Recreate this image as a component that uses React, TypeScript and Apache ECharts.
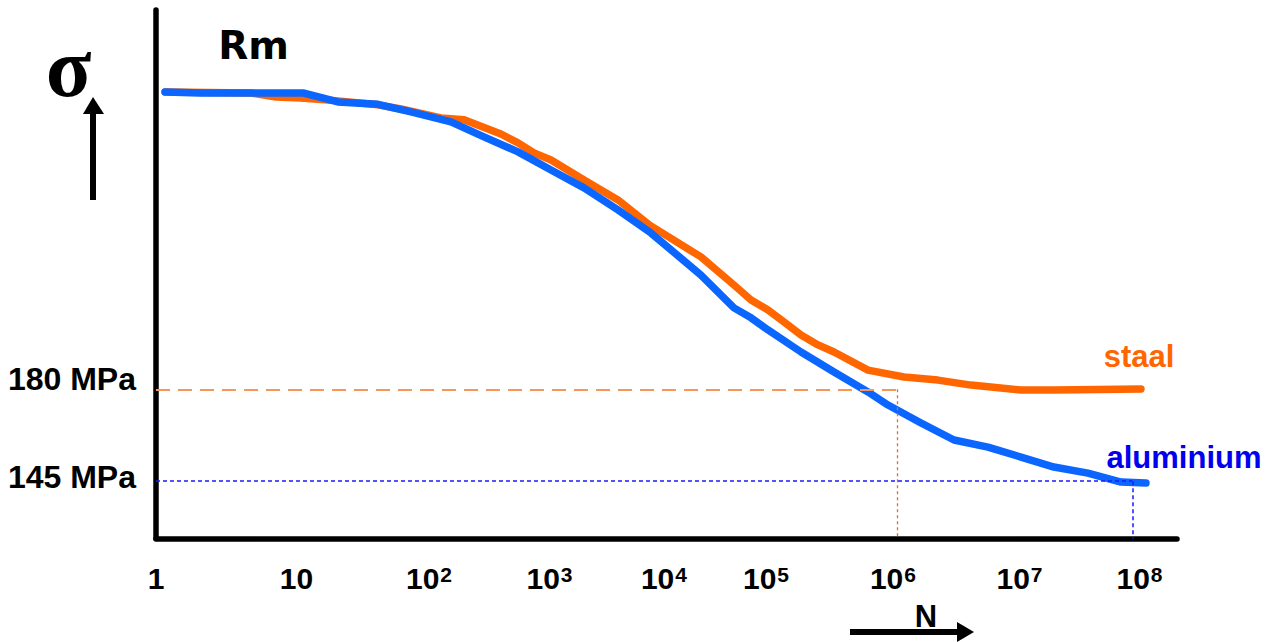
import React, { useEffect, useRef } from "react";
import * as echarts from "echarts";

// x values are positions on the (hand-drawn) logarithmic N axis, in decades
const xTickPos = [0, 1.15, 2.185, 3.171, 4.108, 4.943, 5.982, 7.018, 8];
const xTickExp = [0, 1, 2, 3, 4, 5, 6, 7, 8];

const yTickVals = [145, 180];
const yTickLabels = ["145 MPa", "180 MPa"];

const staal: [number, number][] = [
  [0.074, 293.2], [0.777, 292.8], [0.982, 291.3], [1.187, 290.9], [1.489, 289.8],
  [1.817, 288.3], [2.005, 286.7], [2.332, 283.3], [2.521, 282.6], [2.823, 277.2],
  [2.963, 273.8], [3.094, 270.0], [3.233, 267.3], [3.503, 259.7], [3.642, 255.9],
  [3.781, 252.1], [4.04, 242.5], [4.46, 230.4], [4.73, 219.7], [4.87, 214.0],
  [5.009, 210.2], [5.14, 205.6], [5.279, 200.7], [5.418, 196.9], [5.549, 194.2],
  [5.827, 187.3], [6.122, 184.7], [6.4, 183.5], [6.67, 181.6], [7.079, 179.7],
  [7.349, 179.7], [8.061, 180.1],
];

const aluminium: [number, number][] = [
  [0.074, 293.2], [0.368, 292.8], [0.777, 292.8], [1.211, 292.8], [1.489, 289.4],
  [1.817, 288.5], [2.087, 285.6], [2.414, 281.8], [2.684, 276.1], [2.963, 270.4],
  [3.233, 263.5], [3.503, 256.7], [3.781, 248.3], [4.051, 239.5], [4.46, 223.5],
  [4.73, 211.0], [4.87, 207.2], [5.009, 202.6], [5.279, 194.2], [5.549, 186.6],
  [5.688, 182.8], [5.827, 179.0], [5.991, 174.0], [6.261, 167.2], [6.531, 160.7],
  [6.809, 158.0], [7.079, 154.2], [7.349, 150.4], [7.627, 148.1], [7.898, 144.7],
  [8.102, 144.3],
];

const staalLimit = { x: 6.07, y: 180 };
const aluLimit = { x: 7.99, y: 145 };

const Y_MIN = 123.2;
const Y_MAX = 324.4;

const FONT = "'Liberation Sans', Arial, Helvetica, sans-serif";

export default function App() {
  const ref = useRef<HTMLDivElement>(null);

  useEffect(() => {
    if (!ref.current) return;
    const chart = echarts.init(ref.current, null, { renderer: "svg" });

    const option: any = {
      animation: false,
      backgroundColor: "#ffffff",
      grid: { left: 156, right: 96, top: 10, bottom: 103.5 },
      xAxis: {
        type: "value",
        min: 0,
        max: 8.356,
        axisLine: { show: true, onZero: false, lineStyle: { color: "#000", width: 5.5 } },
        axisTick: { show: false },
        splitLine: { show: false },
        axisLabel: {
          show: true,
          customValues: xTickPos,
          margin: 25,
          formatter: (v: number) => {
            const i = xTickPos.findIndex((p) => Math.abs(p - v) < 1e-6);
            const e = i >= 0 ? xTickExp[i] : 0;
            if (e === 0) return "{b|1}";
            if (e === 1) return "{b|10}";
            return "{p|10}{s|" + e + "}";
          },
          rich: {
            b: { fontSize: 30, fontWeight: "bold", fontFamily: FONT, color: "#000", lineHeight: 30 },
            p: { fontSize: 30, fontWeight: "bold", fontFamily: FONT, color: "#000", lineHeight: 30, padding: [0, 0, 0, 12] },
            s: { fontSize: 21, fontWeight: "bold", fontFamily: FONT, color: "#000", lineHeight: 8, verticalAlign: "top", padding: [0, 0, 0, 1] },
          },
        },
      },
      yAxis: {
        type: "value",
        min: Y_MIN,
        max: Y_MAX,
        axisLine: { show: true, onZero: false, lineStyle: { color: "#000", width: 5.5 } },
        axisTick: { show: false },
        splitLine: { show: false },
        axisLabel: {
          show: true,
          customValues: yTickVals,
          margin: 20,
          formatter: (v: number) => {
            const i = yTickVals.indexOf(v);
            return i === 1 ? "{hi|" + yTickLabels[i] + "}" : "{lo|" + yTickLabels[Math.max(i, 0)] + "}";
          },
          rich: {
            hi: { fontSize: 32, fontWeight: "bold", fontFamily: FONT, color: "#000", lineHeight: 32, padding: [0, 0, 20, 0] },
            lo: { fontSize: 32, fontWeight: "bold", fontFamily: FONT, color: "#000", lineHeight: 32, padding: [0, 0, 8, 0] },
          },
        },
      },
      series: [
        {
          name: "staal",
          type: "line",
          data: staal,
          showSymbol: false,
          symbol: "none",
          smooth: false,
          lineStyle: { color: "#ff6600", width: 7.5, join: "round", cap: "round" },
          z: 2,
          markLine: {
            silent: true,
            symbol: ["none", "none"],
            label: { show: false },
            data: [
              [
                { coord: [0, staalLimit.y], lineStyle: { color: "#f5975a", width: 2, type: [14, 8] } },
                { coord: [staalLimit.x, staalLimit.y] },
              ],
              [
                { coord: [staalLimit.x, staalLimit.y], lineStyle: { color: "#ec6a1e", width: 1.3, type: [3, 3] } },
                { coord: [staalLimit.x, Y_MIN] },
              ],
            ],
          },
        },
        {
          name: "aluminium",
          type: "line",
          data: aluminium,
          showSymbol: false,
          symbol: "none",
          smooth: false,
          lineStyle: { color: "#0a66ff", width: 7.5, join: "round", cap: "round" },
          z: 3,
          markLine: {
            silent: true,
            symbol: ["none", "none"],
            label: { show: false },
            data: [
              [
                { coord: [0, aluLimit.y], lineStyle: { color: "#1a1aff", width: 1.5, type: [4, 3] } },
                { coord: [aluLimit.x, aluLimit.y] },
              ],
              [
                { coord: [aluLimit.x, aluLimit.y], lineStyle: { color: "#1a1aff", width: 1.5, type: [4, 3] } },
                { coord: [aluLimit.x, Y_MIN] },
              ],
            ],
          },
        },
      ],
      graphic: [
        {
          type: "text",
          x: 68.5,
          y: 67,
          style: { text: "σ", fontSize: 84, fontWeight: "bold", fontFamily: "'Liberation Serif', 'Times New Roman', serif", fill: "#000", align: "center", verticalAlign: "middle" },
        },
        { type: "line", shape: { x1: 93, y1: 200, x2: 93, y2: 110 }, style: { stroke: "#000", lineWidth: 6 } },
        { type: "polygon", shape: { points: [[93, 97], [83, 114], [104, 114]] }, style: { fill: "#000" } },
        {
          type: "text",
          x: 253.5,
          y: 45,
          style: { text: "Rm", fontSize: 39, fontWeight: "bold", fontFamily: "'DejaVu Sans', sans-serif", fill: "#000", align: "center", verticalAlign: "middle" },
        },
        {
          type: "text",
          x: 1139,
          y: 356.3,
          style: { text: "staal", fontSize: 31, fontWeight: "bold", fontFamily: FONT, fill: "#ff6600", align: "center", verticalAlign: "middle" },
        },
        {
          type: "text",
          x: 1184,
          y: 457.3,
          style: { text: "aluminium", fontSize: 31, fontWeight: "bold", fontFamily: FONT, fill: "#0000ee", align: "center", verticalAlign: "middle" },
        },
        {
          type: "text",
          x: 926,
          y: 616,
          style: { text: "N", fontSize: 31, fontWeight: "bold", fontFamily: FONT, fill: "#000", align: "center", verticalAlign: "middle" },
        },
        { type: "line", shape: { x1: 850, y1: 632, x2: 960, y2: 632 }, style: { stroke: "#000", lineWidth: 6 } },
        { type: "polygon", shape: { points: [[974, 632], [957, 622], [957, 642]] }, style: { fill: "#000" } },
      ],
    };

    chart.setOption(option);
    return () => chart.dispose();
  }, []);

  return (
    <div
      ref={ref}
      style={{ position: "absolute", left: 0, top: 0, width: 1273, height: 642, background: "#fff" }}
    />
  );
}
